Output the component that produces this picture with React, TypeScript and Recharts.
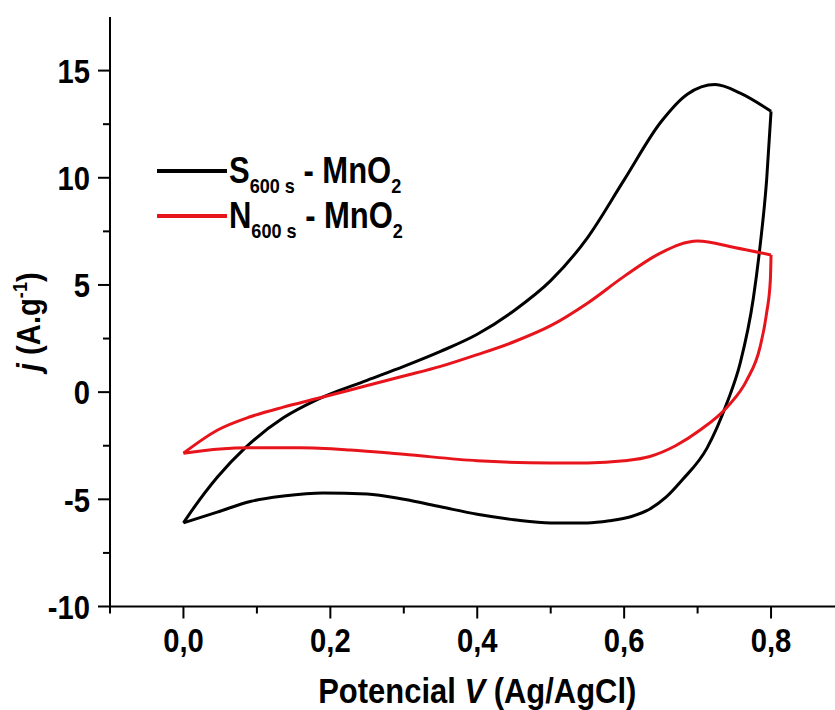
import { LineChart, Line, XAxis, YAxis, Legend } from "recharts";

const FONT = "'Liberation Sans Narrow', 'Arial Narrow', 'Liberation Sans', Arial, sans-serif";
const RED = "#e8141c";
const SQUEEZE = 0.86; // the reference uses a condensed bold face

// S600 s - MnO2, anodic sweep (0 -> 0.8 V)
const S_ANODIC_V = [0, 0.014, 0.046, 0.084, 0.136, 0.182, 0.25, 0.3, 0.35, 0.4, 0.45, 0.5, 0.55, 0.6, 0.65, 0.686, 0.724, 0.758, 0.8];
const S_ANODIC_J = [-6.1, -5.4, -3.97, -2.6, -1.2, -0.35, 0.55, 1.2, 1.9, 2.7, 3.8, 5.2, 7.2, 9.9, 12.6, 13.9, 14.35, 13.95, 13.1];
// S600 s - MnO2, cathodic sweep (0.8 -> 0 V), listed by rising V
const S_CATHODIC_V = [0, 0.046, 0.091, 0.136, 0.19, 0.25, 0.3, 0.35, 0.4, 0.45, 0.5, 0.55, 0.58, 0.61, 0.635, 0.657, 0.679, 0.713, 0.74, 0.758, 0.776, 0.785, 0.794, 0.8];
const S_CATHODIC_J = [-6.1, -5.6, -5.1, -4.85, -4.7, -4.75, -5.0, -5.35, -5.7, -5.95, -6.1, -6.1, -6.0, -5.8, -5.45, -4.9, -4.1, -2.6, -0.5, 1.35, 4.4, 6.8, 9.9, 13.1];

// N600 s - MnO2
const N_ANODIC_V = [0, 0.046, 0.091, 0.136, 0.182, 0.227, 0.3, 0.35, 0.4, 0.45, 0.5, 0.55, 0.6, 0.65, 0.7, 0.75, 0.8];
const N_ANODIC_J = [-2.85, -1.78, -1.15, -0.7, -0.3, 0.1, 0.75, 1.2, 1.75, 2.35, 3.1, 4.15, 5.4, 6.5, 7.05, 6.75, 6.4];
const N_CATHODIC_V = [0, 0.05, 0.091, 0.159, 0.227, 0.3, 0.4, 0.5, 0.55, 0.6, 0.635, 0.67, 0.703, 0.74, 0.767, 0.785, 0.794, 0.799, 0.8];
const N_CATHODIC_J = [-2.85, -2.65, -2.6, -2.6, -2.7, -2.9, -3.2, -3.3, -3.3, -3.2, -3.0, -2.5, -1.78, -0.7, 0.56, 2.1, 3.7, 5.2, 6.4];

const X_TICKS = [-0.1, 0, 0.1, 0.2, 0.3, 0.4, 0.5, 0.6, 0.7, 0.8, 0.9];
const Y_TICKS = [-10, -7.5, -5, -2.5, 0, 2.5, 5, 7.5, 10, 12.5, 15];

const SERIES = [
  { key: "S-an", color: "#000000", data: toPoints(S_ANODIC_V, S_ANODIC_J) },
  { key: "S-cat", color: "#000000", data: toPoints(S_CATHODIC_V, S_CATHODIC_J) },
  { key: "N-an", color: RED, data: toPoints(N_ANODIC_V, N_ANODIC_J) },
  { key: "N-cat", color: RED, data: toPoints(N_CATHODIC_V, N_CATHODIC_J) },
];

const LEGEND_ITEMS = [
  { letter: "S", color: "#000000" },
  { letter: "N", color: RED },
];

function toPoints(v: number[], j: number[]) {
  return v.map((x, i) => ({ v: x, j: j[i] }));
}

function XTick({ x, y, payload }: any) {
  const n = Math.round(payload.value * 10);
  const major = n >= 0 && n % 2 === 0;
  return (
    <g>
      <line x1={x} x2={x} y1={y} y2={y + (major ? 12 : 7)} stroke="#000" strokeWidth={2} />
      {major && (
        <text transform={`translate(${x} ${y + 45}) scale(${SQUEEZE} 1)`} textAnchor="middle" fontFamily={FONT} fontWeight="bold" fontSize={34} fill="#000">
          {payload.value.toFixed(1).replace(".", ",")}
        </text>
      )}
    </g>
  );
}

function YTick({ x, y, payload }: any) {
  const major = payload.value % 5 === 0;
  return (
    <g>
      <line x1={x - (major ? 12 : 7)} x2={x} y1={y} y2={y} stroke="#000" strokeWidth={2} />
      {major && (
        <text transform={`translate(${x - 20} ${y}) scale(${SQUEEZE} 1)`} dy="0.36em" textAnchor="end" fontFamily={FONT} fontWeight="bold" fontSize={34} fill="#000">
          {payload.value}
        </text>
      )}
    </g>
  );
}

function XTitle({ viewBox }: any) {
  const cx = viewBox.x + viewBox.width / 2;
  return (
    <text transform={`translate(${cx} ${viewBox.y + 96}) scale(${SQUEEZE} 1)`} textAnchor="middle" fontFamily={FONT} fontWeight="bold" fontSize={36} fill="#000">
      Potencial <tspan fontStyle="italic">V</tspan> (Ag/AgCl)
    </text>
  );
}

function YTitle({ viewBox }: any) {
  const cx = viewBox.x + 40;
  const cy = viewBox.y + viewBox.height / 2 + 10;
  return (
    <text transform={`translate(${cx} ${cy}) rotate(-90) scale(${SQUEEZE} 1)`} textAnchor="middle" fontFamily={FONT} fontWeight="bold" fontSize={34} fill="#000">
      <tspan fontStyle="italic">j</tspan> (A.g<tspan dy={-13} fontSize={21}>-1</tspan><tspan dy={13}>)</tspan>
    </text>
  );
}

function LegendBox() {
  const sub = { fontSize: 21, position: "relative" as const, top: 10 };
  return (
    <div style={{ fontFamily: FONT, fontWeight: 700, fontSize: 36, color: "#000" }}>
      {LEGEND_ITEMS.map((it) => (
        <div key={it.letter} style={{ display: "flex", alignItems: "center", height: 45 }}>
          <span style={{ display: "inline-block", width: 70, height: 4, background: it.color }} />
          <span style={{ display: "inline-block", marginLeft: 2, whiteSpace: "nowrap", transform: `scaleX(${SQUEEZE})`, transformOrigin: "left center" }}>
            {it.letter}
            <span style={sub}>600 s</span> - MnO<span style={sub}>2</span>
          </span>
        </div>
      ))}
    </div>
  );
}

export default function App() {
  return (
    <div style={{ position: "absolute", left: 0, top: 0, width: 835, height: 710, overflow: "hidden", background: "#fff" }}>
      <LineChart width={860} height={710} margin={{ top: 17, right: 15.5, bottom: 0, left: 0 }}>
        <XAxis
          dataKey="v"
          type="number"
          domain={[-0.1, 0.9]}
          ticks={X_TICKS}
          interval={0}
          height={103.5}
          tickSize={0}
          tickMargin={0}
          tickLine={false}
          tick={<XTick />}
          axisLine={{ stroke: "#000", strokeWidth: 2 }}
          label={<XTitle />}
        />
        <XAxis
          xAxisId="top"
          orientation="top"
          type="number"
          domain={[-0.1, 0.9]}
          height={0}
          tick={false}
          tickLine={false}
          axisLine={{ stroke: "#000", strokeWidth: 2 }}
        />
        <YAxis
          type="number"
          domain={[-10, 17.5]}
          ticks={Y_TICKS}
          interval={0}
          width={110}
          tickSize={0}
          tickMargin={0}
          tickLine={false}
          tick={<YTick />}
          axisLine={{ stroke: "#000", strokeWidth: 2 }}
          allowDataOverflow
          label={<YTitle />}
        />
        <Legend
          layout="vertical"
          align="center"
          verticalAlign="middle"
          content={<LegendBox />}
          wrapperStyle={{ left: 157, top: 148, width: "auto", height: "auto" }}
        />
        {SERIES.map((s) => (
          <Line
            key={s.key}
            data={s.data}
            dataKey="j"
            type="monotone"
            stroke={s.color}
            strokeWidth={3}
            dot={false}
            activeDot={false}
            legendType="none"
            isAnimationActive={false}
          />
        ))}
      </LineChart>
    </div>
  );
}
